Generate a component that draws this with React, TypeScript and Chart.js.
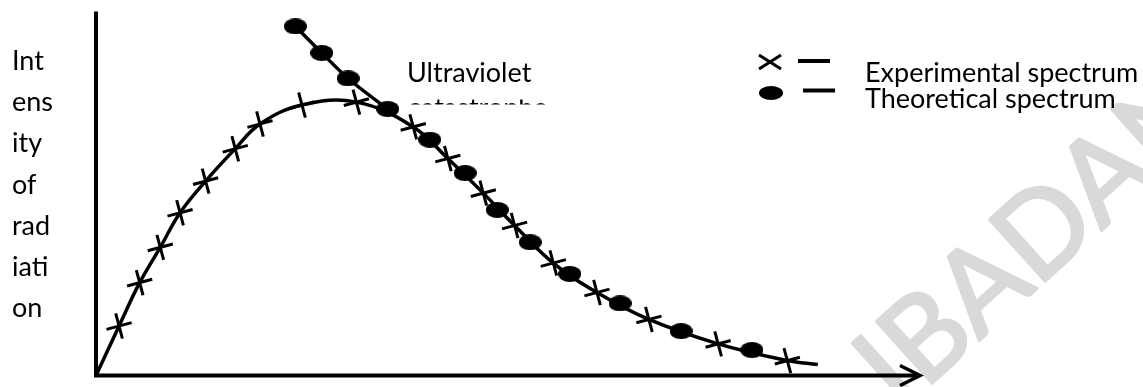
import { useEffect, useRef } from "react";
import { Chart, registerables } from "chart.js";

Chart.register(...registerables);

// Wavelength (arbitrary units) and intensity (arbitrary units)
const experimentalX = [0, 0.28, 0.53, 0.78, 1.02, 1.33, 1.69, 1.99, 2.5, 3.16, 3.85, 4.27, 4.7, 5.08, 5.55, 6.08, 6.71, 7.55, 8.39, 8.76];
const experimentalY = [0, 1.36, 2.55, 3.52, 4.47, 5.34, 6.23, 6.91, 7.43, 7.51, 6.83, 5.96, 5.01, 4.12, 3.09, 2.28, 1.54, 0.87, 0.41, 0.3];
const theoreticalX = [2.42, 2.74, 3.06, 3.54, 4.05, 4.48, 4.87, 5.27, 5.75, 6.36, 7.1, 7.96];
const theoreticalY = [9.59, 8.86, 8.16, 7.32, 6.48, 5.56, 4.55, 3.66, 2.79, 1.98, 1.22, 0.7];

const yAxisLabelLines = ["Int", "ens", "ity", "of", "rad", "iati", "on"];
const legendLabels = ["Experimental spectrum", "Theoretical spectrum"];
const annotationLines = ["Ultraviolet", "catastrophe"];
const watermarkText = "IBADAN";

const FONT = "Lato, 'Open Sans', sans-serif";

function makeEllipse(w: number, h: number) {
  const c = document.createElement("canvas");
  c.width = w;
  c.height = h;
  const g = c.getContext("2d")!;
  g.fillStyle = "#000";
  g.beginPath();
  g.ellipse(w / 2, h / 2, w / 2, h / 2, 0, 0, Math.PI * 2);
  g.fill();
  return c;
}

const decorPlugin = {
  id: "decor",
  beforeDatasetsDraw(chart: any) {
    const ctx = chart.ctx as CanvasRenderingContext2D;
    const xs = chart.scales.x;
    const ys = chart.scales.y;
    const x0 = xs.getPixelForValue(0);
    const y0 = ys.getPixelForValue(0);
    const xEnd = xs.getPixelForValue(xs.max);
    const yTop = ys.getPixelForValue(ys.max);

    // watermark
    ctx.save();
    ctx.fillStyle = "#d9d9d9";
    ctx.strokeStyle = "#d9d9d9";
    ctx.lineWidth = 3;
    ctx.lineJoin = "round";
    ctx.font = `116px ${FONT}`;
    ctx.translate(900, 412);
    ctx.rotate((-42 * Math.PI) / 180);
    ctx.textBaseline = "alphabetic";
    ctx.fillText(watermarkText, 0, 0);
    ctx.strokeText(watermarkText, 0, 0);
    ctx.restore();

    // axes
    ctx.save();
    ctx.strokeStyle = "#000";
    ctx.lineWidth = 4;
    ctx.beginPath();
    ctx.moveTo(x0, yTop);
    ctx.lineTo(x0, y0 + 2);
    ctx.moveTo(x0 - 2, y0);
    ctx.lineTo(xEnd - 1, y0);
    ctx.stroke();
    ctx.lineWidth = 3.5;
    ctx.lineJoin = "miter";
    ctx.beginPath();
    ctx.moveTo(xEnd - 20, y0 - 10);
    ctx.lineTo(xEnd, y0);
    ctx.lineTo(xEnd - 20, y0 + 10);
    ctx.stroke();
    ctx.restore();
  },
  afterDatasetsDraw(chart: any) {
    const ctx = chart.ctx as CanvasRenderingContext2D;
    ctx.save();
    ctx.fillStyle = "#000";
    ctx.strokeStyle = "#000";
    ctx.font = `27px ${FONT}`;
    ctx.textBaseline = "alphabetic";
    ctx.textAlign = "left";

    // y axis label, wrapped in a narrow box
    yAxisLabelLines.forEach((t, i) => ctx.fillText(t, 12, 70 + i * 41.2));

    // annotation (second line hidden behind the plot, only a sliver shows)
    ctx.fillText(annotationLines[0], 407, 82);
    ctx.save();
    ctx.beginPath();
    ctx.rect(400, 99.5, 170, 5);
    ctx.clip();
    ctx.fillText(annotationLines[1], 408, 117);
    ctx.restore();

    // legend
    ctx.lineWidth = 3;
    ctx.beginPath();
    ctx.moveTo(759, 55);
    ctx.lineTo(781, 69);
    ctx.moveTo(759, 69);
    ctx.lineTo(781, 55);
    ctx.stroke();
    ctx.lineWidth = 4;
    ctx.beginPath();
    ctx.moveTo(798, 61);
    ctx.lineTo(830, 61);
    ctx.moveTo(803, 90.5);
    ctx.lineTo(835, 90.5);
    ctx.stroke();
    ctx.beginPath();
    ctx.ellipse(771, 93, 12, 7, 0, 0, Math.PI * 2);
    ctx.fill();
    ctx.fillText(legendLabels[0], 865, 82);
    ctx.fillText(legendLabels[1], 865, 108);
    ctx.restore();
  },
};

export default function App() {
  const ref = useRef<HTMLCanvasElement>(null);
  useEffect(() => {
    const dot = makeEllipse(23, 16);
    const expData = experimentalX.map((x, i) => ({ x, y: experimentalY[i] }));
    const theoData = theoreticalX.map((x, i) => ({ x, y: theoreticalY[i] }));
    const chart = new Chart(ref.current!, {
      type: "line",
      data: {
        datasets: [
          {
            label: legendLabels[0],
            data: expData,
            borderColor: "#000",
            borderWidth: 3.5,
            tension: 0.4,
            fill: false,
            pointStyle: "cross",
            pointRotation: -15,
            pointRadius: (c: any) => (c.dataIndex === 0 || c.dataIndex === expData.length - 1 ? 0 : 13),
            pointBorderWidth: 3,
            pointBorderColor: "#000",
            pointBackgroundColor: "#000",
            clip: false as any,
          },
          {
            label: legendLabels[1],
            data: theoData,
            borderColor: "#000",
            borderWidth: 3.5,
            tension: 0.3,
            fill: false,
            pointStyle: dot as any,
            pointRadius: 8,
            segment: {
              borderColor: (c: any) => (c.p0DataIndex >= 3 ? "rgba(0,0,0,0)" : "#000"),
            },
            clip: false as any,
          },
        ],
      },
      options: {
        animation: false,
        responsive: true,
        maintainAspectRatio: false,
        layout: { padding: { left: 96, right: 223, top: 8, bottom: 10 } },
        plugins: { legend: { display: false }, tooltip: { enabled: false }, title: { display: false } },
        scales: {
          x: { type: "linear", min: 0, max: 10, display: false },
          y: { type: "linear", min: 0, max: 10, display: false },
        },
      },
      plugins: [decorPlugin],
    });
    return () => chart.destroy();
  }, []);
  return (
    <div style={{ position: "absolute", left: 0, top: 0, width: 1143, height: 387, background: "#fff" }}>
      <canvas ref={ref} />
    </div>
  );
}
